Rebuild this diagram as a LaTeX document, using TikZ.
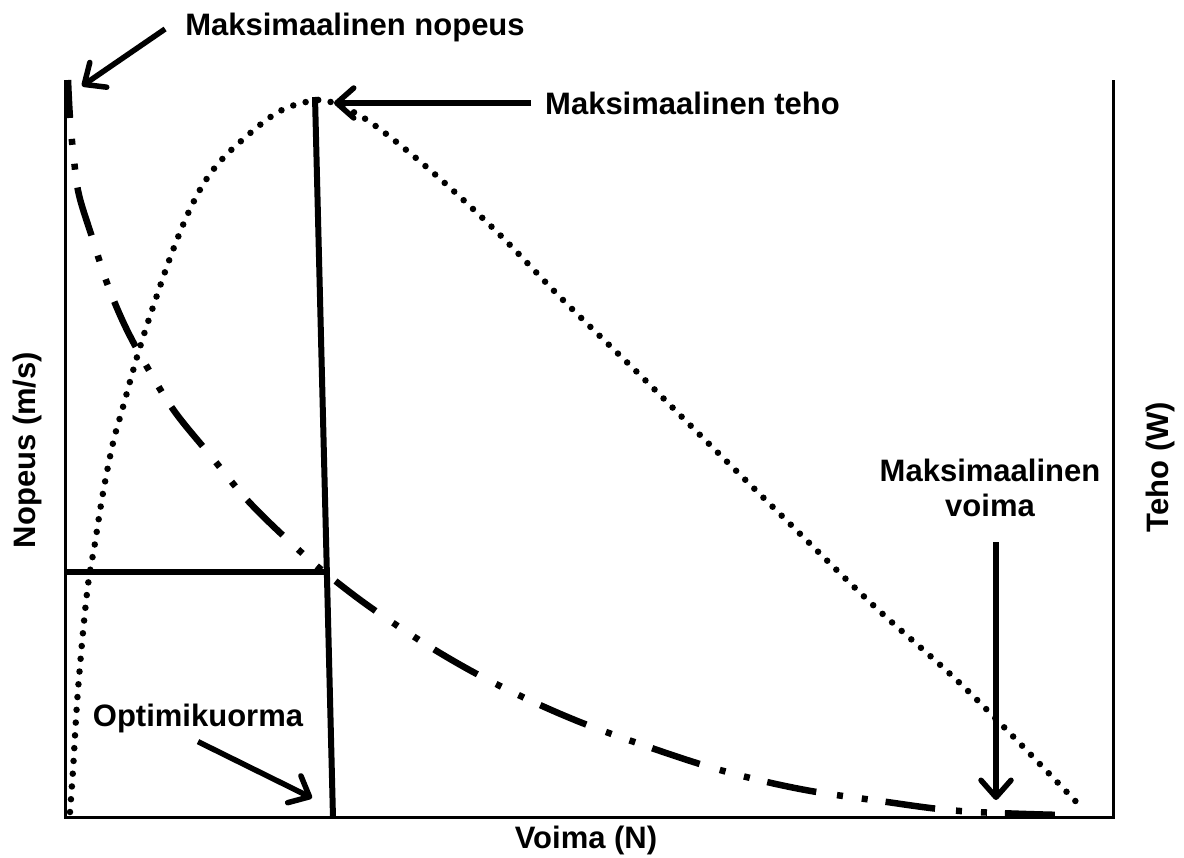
\documentclass[tikz,border=0pt]{standalone}
\usepackage{fontspec}
\setmainfont{Liberation Sans}
\usetikzlibrary{arrows.meta}

\begin{document}
\begin{tikzpicture}[x=1pt,y=-1pt]
	\tikzset{txt/.style = {inner sep=0pt, font=\bfseries\fontsize{31}{35}\selectfont}}
	\tikzset{pointer/.style = {-{Straight Barb[round,length=17pt,width=30pt]}, line width=5.5pt}}
	\tikzset{axis/.style = {line width=3pt}}
	\tikzset{optline/.style = {line width=6pt}}
	\tikzset{speed/.style = {line width=6.5pt, dash pattern=on 50pt off 21pt on 6pt off 19pt on 6pt off 18pt, dash phase=12pt}}
	\tikzset{power/.style = {line width=6.5pt, line cap=round, dash pattern=on 0pt off 12.8pt}}
	\useasboundingbox (0,0) rectangle (1184,858);
	% axes
	\draw[axis] (65,80) -- (65,817) -- (1113,817) -- (1113,80);
	% labels
	\node[txt] (nopeus) at (355,27) {Maksimaalinen nopeus};
	\node[txt, anchor=west] (teho) at (545,103) {Maksimaalinen teho};
	\node[txt] (optimi) at (198,718) {Optimikuorma};
	\node[txt, align=center] (voima) at (990,488) {Maksimaalinen\\voima};
	\node[txt, rotate=90] (ylabel) at (27,450) {Nopeus (m/s)};
	\node[txt, rotate=90] (y2label) at (1160,467) {Teho (W)};
	\node[txt] (xlabel) at (586,840) {Voima (N)};
	% curves
	\draw[speed] plot[smooth, tension=0.6] coordinates {(68,80) (70,118) (74,160) (79,195) (92,237) (107,283) (126,328) (150,372) (175,412) (210,455) (250,503) (302,553) (338,583) (380,614) (440,653) (500,686) (570,718) (640,744) (720,770) (800,789) (880,801) (960,811) (1062,815)};
	\draw[power] plot[smooth, tension=0.6] coordinates {(70,812) (73,770) (78,690) (87,593) (95,543) (103,493) (113,443) (123,407) (137,357) (152,310) (173,250) (193,203) (213,170) (240,142) (280,111) (318,100) (335,104) (370,122) (430,170) (497,232) (563,300) (640,375) (693,428) (783,517) (873,605) (967,690) (1083,809)};
	% optimum
	\draw[optline] (315,97) -- (333,818);
	\draw[optline] (65,572) -- (326,572);
	% pointers
	\coordinate (vmax) at (82,86);
	\coordinate (pmax) at (334,103);
	\coordinate (fopt) at (312,798);
	\coordinate (fmax) at (996,800);
	\draw[pointer] ([xshift=-20pt,yshift=-2pt]nopeus.west) to (vmax);
	\draw[pointer] ([xshift=-14pt]teho.west) to (pmax);
	\draw[pointer] ([yshift=-9pt]optimi.south) to (fopt);
	\draw[pointer] ([xshift=6pt,yshift=-25pt]voima.south) to (fmax);
\end{tikzpicture}
\end{document}
